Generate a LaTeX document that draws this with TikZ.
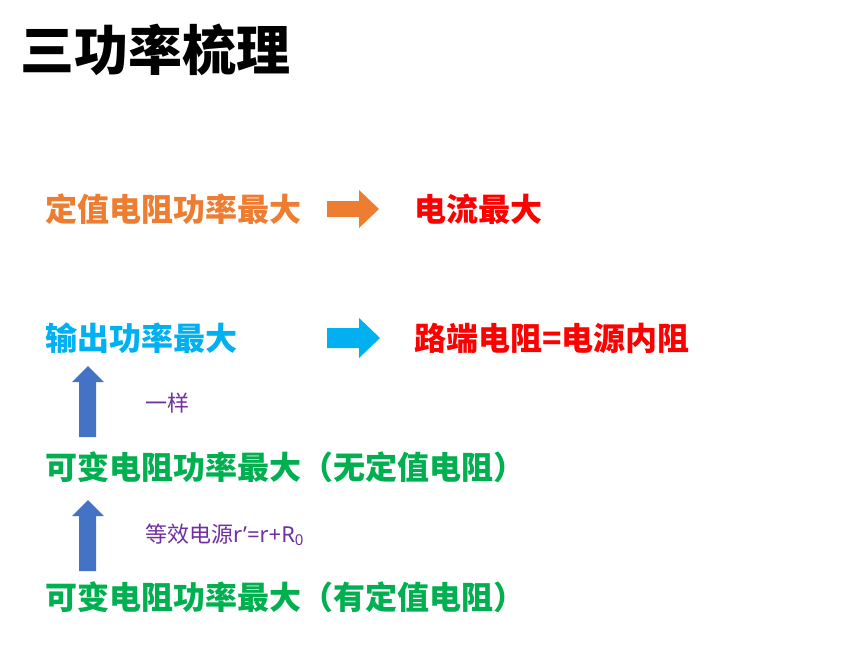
\documentclass[tikz,border=0pt]{standalone}
\usepackage{fontspec}
\setmainfont{Noto Sans CJK SC}
\newfontfamily\latf{Noto Sans}
\definecolor{cOrange}{HTML}{ED7D31}
\definecolor{cCyan}{HTML}{00B0F0}
\definecolor{cRed}{HTML}{FF0000}
\definecolor{cGreen}{HTML}{00B050}
\definecolor{cBlue}{HTML}{4472C4}
\definecolor{cPurple}{HTML}{7030A0}
\tikzset{
  lbl/.style={anchor=west, inner sep=0pt, font=\fontsize{32}{32}\selectfont\bfseries},
  note/.style={anchor=west, inner sep=0pt, font=\fontsize{22}{22}\selectfont, text=cPurple},
}
\begin{document}
\begin{tikzpicture}[x=1pt,y=-1pt]
\useasboundingbox (0,0) rectangle (863,645);
\node[anchor=west, inner sep=0pt, font=\fontsize{54}{54}\selectfont\bfseries] (title) at (20,50) {三功率梳理};
% row 1
\node[lbl, text=cOrange] (a1) at (45,209) {定值电阻功率最大};
\fill[cOrange] (327,201) -- (359,201) -- (359,190) -- (379,209) -- (359,228) -- (359,217) -- (327,217) -- cycle;
\node[lbl, text=cRed] (b1) at (414,209) {电流最大};
% row 2
\node[lbl, text=cCyan] (a2) at (45,338) {输出功率最大};
\fill[cCyan] (327,328) -- (359,328) -- (359,318) -- (380,338) -- (359,358) -- (359,348) -- (327,348) -- cycle;
\node[lbl, text=cRed] (b2) at (414,338) {路端电阻=电源内阻};
% up arrow 1
\fill[cBlue] (79,437) -- (79,382) -- (72,382) -- (88,366) -- (104,382) -- (96,382) -- (96,437) -- cycle;
\node[note] (n1) at (145,403) {一样};
% row 3
\node[lbl, text=cGreen] (a3) at (45,467) {可变电阻功率最大（无定值电阻）};
% up arrow 2
\fill[cBlue] (79,571) -- (79,516) -- (72,516) -- (88,500) -- (104,516) -- (96,516) -- (96,571) -- cycle;
\node[note] (n2) at (145,535) {等效电源{\latf r’=r+R\raisebox{-0.3ex}{\fontsize{15}{15}\selectfont 0}}};
% row 4
\node[lbl, text=cGreen] (a4) at (45,597) {可变电阻功率最大（有定值电阻）};
\end{tikzpicture}
\end{document}
